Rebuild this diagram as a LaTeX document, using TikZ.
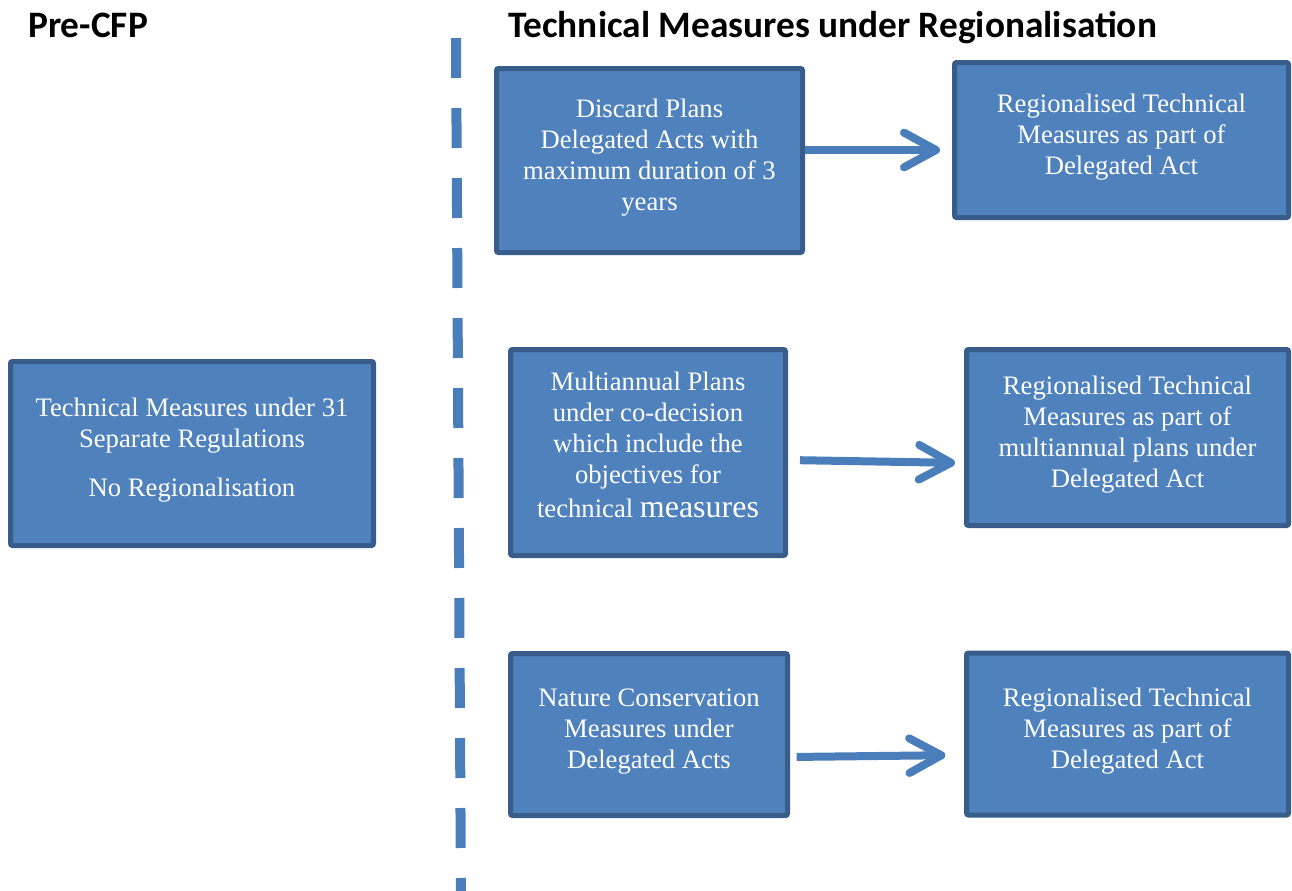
\documentclass[tikz,border=0pt]{standalone}
\usepackage{fontspec}
\setmainfont{Liberation Serif}
\newfontfamily\headfont{Carlito}
\usetikzlibrary{arrows.meta,positioning}

\definecolor{boxfill}{HTML}{4F81BD}
\definecolor{boxline}{HTML}{385D8A}
\definecolor{flowblue}{HTML}{4A7EBB}

\tikzset{
	box/.style={draw=boxline,fill=boxfill,line width=3.75pt,rounded corners=1.5pt,inner sep=0pt},
	boxtext/.style={text=white,align=center,inner sep=0pt,yshift=2.5pt,font=\fontsize{20}{23.25}\selectfont},
	heading/.style={anchor=base west,inner sep=0pt,font=\headfont\bfseries\fontsize{28}{32}\selectfont},
	flow/.style={draw=flowblue,line width=6pt,-{Straight Barb[length=24pt,width=26pt,line cap=round,line join=round]}},
	divider/.style={draw=flowblue,line width=7.5pt,dash pattern=on 30pt off 22.5pt}
}

\begin{document}
\begin{tikzpicture}[x=0.75pt,y=-0.75pt]
	\useasboundingbox (0,0) rectangle (1292,890);

	\node[heading] (pre) at (28,37) {Pre-CFP};
	\node[heading] (reg) at (508,37) {Technical Measures under Regionalisation};

	\coordinate (divtop) at (456,38);
	\coordinate (divbot) at (461,900);
	\draw[divider] (divtop) -- (divbot);

	% pre-CFP
	\node[box,minimum width=272.25pt,minimum height=138pt] (old) at (192,453.5) {};
	\node[boxtext] (oldtext) at (old.center) {Technical Measures under 31\\Separate Regulations\\[13pt]No Regionalisation};

	% discard plans
	\node[box,minimum width=229.5pt,minimum height=138pt] (discard) at (649.5,160.5) {};
	\node[boxtext] (discardtext) at (discard.center) {Discard Plans\\Delegated Acts with\\maximum duration of 3\\years};
	\node[box,minimum width=250.5pt,minimum height=116.25pt] (regdel) at (1121.5,140) {};
	\node[boxtext] (regdeltext) at (regdel.center) {Regionalised Technical\\Measures as part of\\Delegated Act};

	% multiannual plans
	\node[box,minimum width=206.25pt,minimum height=154.5pt] (multi) at (648,452.5) {};
	\node[boxtext,yshift=3pt] (multitext) at (multi.center) {Multiannual Plans\\under co-decision\\which include the\\objectives for\\[2.5pt]technical {\fontsize{24}{23.25}\selectfont measures}};
	\node[box,minimum width=241.5pt,minimum height=132pt] (regmulti) at (1127.5,437.5) {};
	\node[boxtext] (regmultitext) at (regmulti.center) {Regionalised Technical\\Measures as part of\\multiannual plans under\\Delegated Act};

	% nature conservation
	\node[box,minimum width=207.75pt,minimum height=121.5pt] (nature) at (649,734.5) {};
	\node[boxtext] (naturetext) at (nature.center) {Nature Conservation\\Measures under\\Delegated Acts};
	\node[box,minimum width=241.5pt,minimum height=121.5pt] (regnature) at (1127.5,734) {};
	\node[boxtext] (regnaturetext) at (regnature.center) {Regionalised Technical\\Measures as part of\\Delegated Act};

	\draw[flow,shorten >=9pt] (discard.east |- 0,150) -- (regdel.west |- 0,150);
	\draw[flow,shorten <=9pt,shorten >=6.75pt] (multi.east |- 0,460) -- (regmulti.west |- 0,463);
	\draw[flow,shorten <=5pt,shorten >=14pt] (nature.east |- 0,757) -- (regnature.west |- 0,755);
\end{tikzpicture}
\end{document}
